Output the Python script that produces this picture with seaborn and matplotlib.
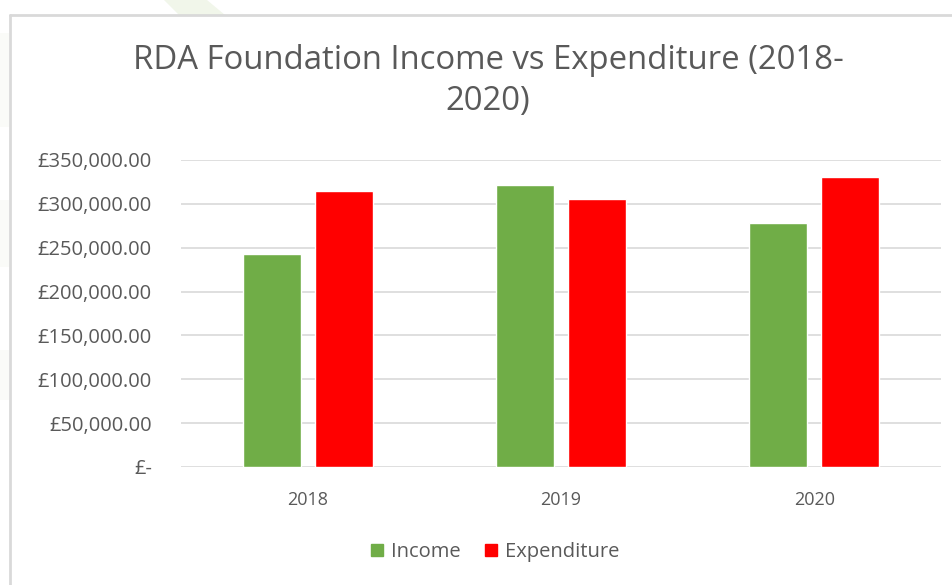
import numpy as np
import pandas as pd
import matplotlib
matplotlib.use("Agg")
import matplotlib.pyplot as plt
import seaborn as sns
from matplotlib.patches import Polygon
from matplotlib.lines import Line2D
from matplotlib.ticker import FuncFormatter

# data
years = ["2018", "2019", "2020"]
income = [243000, 321500, 278000]
expenditure = [314500, 305500, 330500]
series_names = ["Income", "Expenditure"]
colors = ["#70AD47", "#FF0000"]
title = "RDA Foundation Income vs Expenditure (2018-\n2020)"

df = pd.DataFrame({
    "year": years * 2,
    "amount": income + expenditure,
    "series": [series_names[0]] * len(years) + [series_names[1]] * len(years),
})

sns.set_theme(style="white")
plt.rcParams["font.family"] = ["Open Sans", "DejaVu Sans"]
grey = "#595959"

fig = plt.figure(figsize=(9.53, 5.85), dpi=100)
W, H = 953, 585

# faint decorative stripes behind the chart frame
fig.patches.append(Polygon([(164 / W, 1), (207 / W, 1), (225 / W, 1 - 15 / H), (179 / W, 1 - 15 / H)],
                           closed=True, transform=fig.transFigure, facecolor="#F1F6EA", edgecolor="none"))
for y0, y1 in [(33, 127), (200, 267), (350, 400)]:
    fig.patches.append(Polygon([(0, 1 - y0 / H), (9 / W, 1 - y0 / H), (9 / W, 1 - y1 / H), (0, 1 - y1 / H)],
                               closed=True, transform=fig.transFigure, facecolor="#FAFBF8", edgecolor="none"))

# chart frame (cut off on the right and bottom)
fig.add_artist(Line2D([10 / W, 1], [1 - 15 / H, 1 - 15 / H], transform=fig.transFigure, color="#D9D9D9", lw=2))
fig.add_artist(Line2D([10 / W, 10 / W], [0, 1 - 15 / H], transform=fig.transFigure, color="#D9D9D9", lw=2))

ax = fig.add_axes([181 / W, 1 - 467 / H, (941 - 181) / W, (467 - 160) / H])
sns.barplot(data=df, x="year", y="amount", hue="series", palette=colors,
            width=0.57, gap=0.196, ax=ax, legend=False, saturation=1)

ax.set_ylim(0, 350000)
ax.set_yticks(np.arange(0, 350001, 50000))
ax.yaxis.set_major_formatter(FuncFormatter(lambda v, p: "£-" if v == 0 else f"£{v:,.2f}"))
ax.grid(axis="y", color="#D9D9D9", lw=1.2)
ax.set_axisbelow(True)
for s in ax.spines.values():
    s.set_visible(False)
ax.set_xlabel("")
ax.set_ylabel("")
ax.tick_params(axis="y", labelsize=14.5, labelcolor=grey, pad=21, length=0)
ax.tick_params(axis="x", labelsize=13, labelcolor=grey, pad=17, length=0)

fig.text(488 / W, 1 - 81 / H, title, ha="center", va="center", fontsize=23.7,
         color=grey, linespacing=1.3)

handles = [plt.Rectangle((0, 0), 1, 1, color=c) for c in colors]
fig.legend(handles, series_names, loc="center", bbox_to_anchor=(495 / W, 1 - 552 / H),
           ncol=2, frameon=False, fontsize=14.5, labelcolor=grey, handlelength=0.6,
           handleheight=0.6, handletextpad=0.4, columnspacing=1.2)

fig.savefig("out.png", dpi=100, facecolor="white")
